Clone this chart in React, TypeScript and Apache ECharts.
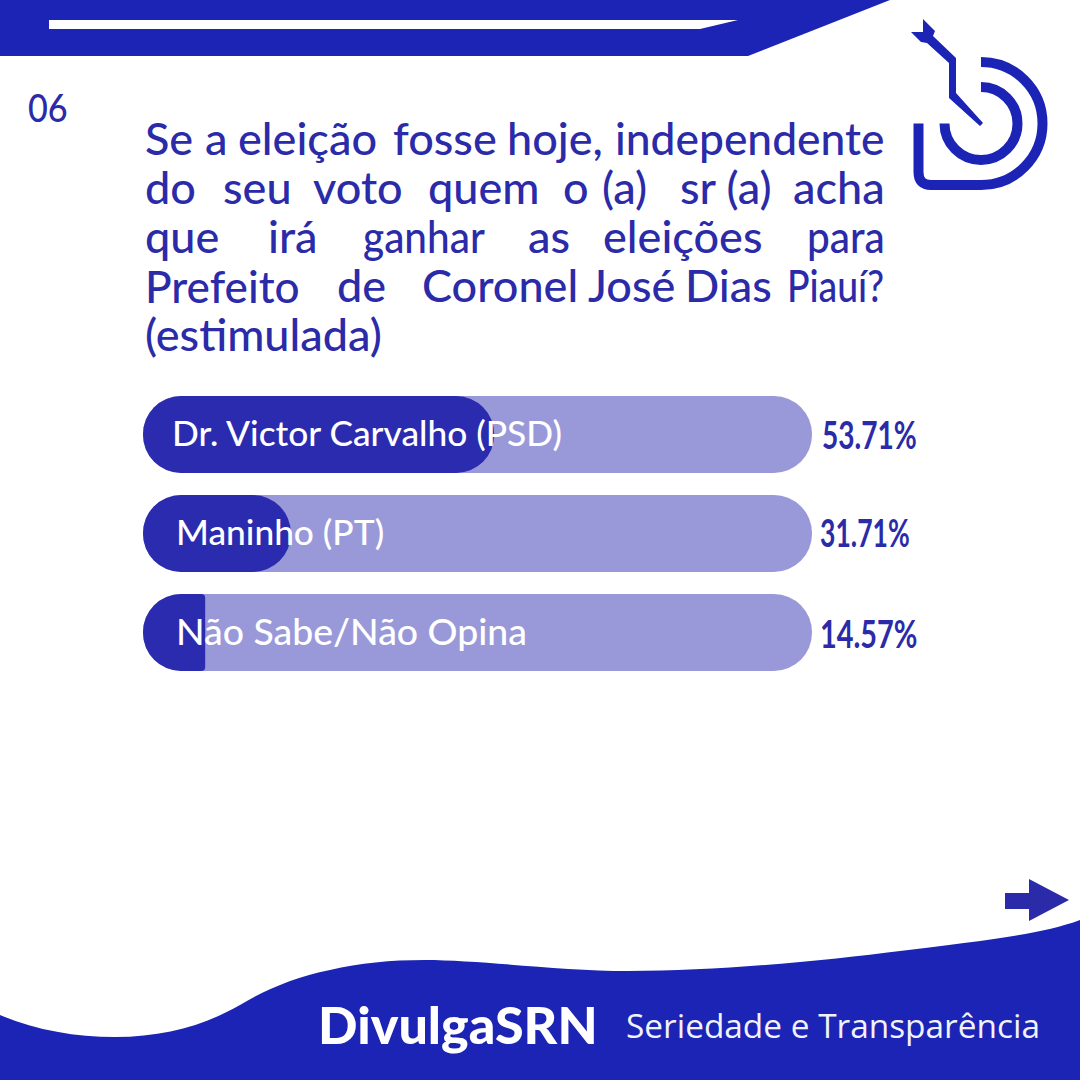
import React, { useEffect, useRef } from "react";
import * as echarts from "echarts";

const categories = ["Dr. Victor Carvalho (PSD)", "Maninho (PT)", "Não Sabe/Não Opina"];
const printedValues = [53.71, 31.71, 14.57];
// Drawn length of each dark bar as a share of its track
const fillLengths = [52.5, 22.1, 9.3];
const trackValues = [100, 100, 100];

const nameOffsets = [29, 33, 33];
const nameSizes = [35.3, 35.3, 37.4];
const valueX = [822, 820, 820];
const valueY = [434, 533, 633];
const valueScale = [0.74, 0.7, 0.76];
const fillRadii = [
  [38, 38, 38, 38],
  [38, 38, 38, 38],
  [38, 4, 4, 38],
];

const titleWords: [string, number, number, number][] = [
  ["Se", 145, 138, 1],
  ["a", 205, 138, 1],
  ["eleição", 238, 138, 1],
  ["fosse", 393, 138, 1],
  ["hoje,", 507, 138, 1],
  ["independente", 615, 138, 0.985],
  ["do", 145, 187, 1],
  ["seu", 223, 187, 1],
  ["voto", 313, 187, 1],
  ["quem", 428, 187, 1],
  ["o", 563, 187, 1],
  ["(a)", 602, 187, 1],
  ["sr (a)", 680, 187, 1],
  ["acha", 793, 187, 1],
  ["que", 145, 236, 1],
  ["irá", 268, 236, 1],
  ["ganhar", 363, 236, 0.9],
  ["as", 528, 236, 1],
  ["eleições", 603, 236, 1],
  ["para", 807, 236, 0.9],
  ["Prefeito", 145, 285, 0.98],
  ["de", 337, 285, 1],
  ["Coronel", 422, 285, 1],
  ["José", 588, 285, 1],
  ["Dias", 685, 285, 1],
  ["Piauí?", 787, 285, 0.83],
  ["(estimulada)", 145, 334, 1],
];

const BLUE = "#1b24b4";
const INK = "#2b2ba9";
const FILL = "#2b2bb0";
const TRACK = "#9999d9";
const FONT = "Lato";

echarts.graphic.registerShape(
  "footerWave",
  echarts.graphic.extendPath(
    "M0,1015 C35,1030 75,1037 115,1037 C165,1037 205,1025 240,1005 C265,990 295,977 330,970 C360,963 390,960 425,960 C480,960 560,971 628,971 C720,971 830,960 900,951 C980,941 1040,935 1080,920 L1080,1080 L0,1080 Z",
    {}
  )
);
echarts.graphic.registerShape(
  "logoOuter",
  echarts.graphic.extendPath("M981,62 A61,61 0 0 1 981,185 L931,185 Q918.5,185 918.5,172 L918.5,123.5", {})
);
echarts.graphic.registerShape(
  "logoInner",
  echarts.graphic.extendPath("M981,87 A36.5,36.5 0 1 1 944.5,123.5", {})
);

function buildGraphic() {
  const words = titleWords.map(([text, x, y, scale]) => ({
    type: "text",
    x,
    y,
    scaleX: scale,
    z: 10,
    style: { text, x: 0, y: 0, fill: INK, fontFamily: FONT, fontSize: 45, fontWeight: 500, verticalAlign: "middle" },
  }));
  const values = printedValues.map((v, i) => ({
    type: "text",
    x: valueX[i],
    y: valueY[i],
    scaleX: valueScale[i],
    z: 10,
    style: {
      text: v.toFixed(2) + "%",
      x: 0,
      y: 0,
      fill: INK,
      fontFamily: FONT,
      fontSize: 38,
      fontWeight: 700,
      verticalAlign: "middle",
    },
  }));
  return [
    { type: "polygon", shape: { points: [[0, 0], [890, 0], [748, 56], [0, 56]] }, style: { fill: BLUE } },
    { type: "polygon", shape: { points: [[49, 20], [738, 20], [700, 29], [49, 29]] }, style: { fill: "#ffffff" } },
    { type: "footerWave", x: 0, y: 0, style: { fill: BLUE } },
    { type: "logoOuter", x: 0, y: 0, style: { fill: "none", stroke: BLUE, lineWidth: 10 } },
    { type: "logoInner", x: 0, y: 0, style: { fill: "none", stroke: BLUE, lineWidth: 10 } },
    {
      type: "polygon",
      shape: {
        points: [
          [911, 32], [923, 32], [923, 19], [935, 31], [933, 36], [956, 58], [956, 93],
          [983, 123], [980, 126], [949, 98], [949, 63], [927, 43], [921, 42],
        ],
      },
      style: { fill: BLUE },
    },
    {
      type: "polygon",
      shape: { points: [[1005, 893], [1029, 893], [1029, 879], [1069, 900], [1029, 921], [1029, 909], [1005, 909]] },
      style: { fill: INK },
    },
    {
      type: "text",
      x: 28,
      y: 107,
      scaleX: 0.9,
      style: { text: "06", x: 0, y: 0, fill: INK, fontFamily: FONT, fontSize: 38, fontWeight: 500, verticalAlign: "middle" },
    },
    ...words,
    ...values,
    {
      type: "text",
      style: { text: "DivulgaSRN", x: 318, y: 1024, fill: "#ffffff", fontFamily: FONT, fontSize: 52, fontWeight: 900, verticalAlign: "middle" },
    },
    {
      type: "text",
      style: { text: "Seriedade e Transparência", x: 626, y: 1025, fill: "#f2f2fb", fontFamily: "Open Sans", fontSize: 33.4, fontWeight: 400, verticalAlign: "middle" },
    },
  ];
}

export default function App() {
  const ref = useRef<HTMLDivElement>(null);
  useEffect(() => {
    document.body.style.margin = "0";
    document.body.style.background = "#ffffff";
    const chart = echarts.init(ref.current!, undefined, { renderer: "svg" });
    chart.setOption({
      animation: false,
      backgroundColor: "#ffffff",
      grid: { left: 143, top: 385, width: 669, height: 297, containLabel: false },
      xAxis: { type: "value", min: 0, max: 100, show: false },
      yAxis: { type: "category", data: categories, inverse: true, show: false },
      graphic: { elements: buildGraphic() },
      series: [
        {
          type: "bar",
          barWidth: 77,
          barGap: "-100%",
          data: trackValues,
          itemStyle: { color: TRACK, borderRadius: 38 },
          silent: true,
        },
        {
          type: "bar",
          barWidth: 77,
          barGap: "-100%",
          data: fillLengths.map((v, i) => ({
            value: v,
            itemStyle: { color: FILL, borderRadius: fillRadii[i] },
            label: {
              show: true,
              position: [nameOffsets[i], "50%"],
              offset: [0, -2],
              verticalAlign: "middle",
              align: "left",
              formatter: categories[i],
              color: "#ffffff",
              fontFamily: FONT,
              fontSize: nameSizes[i],
              fontWeight: 500,
            },
          })),
          silent: true,
        },
      ],
    });
    return () => chart.dispose();
  }, []);
  return <div ref={ref} style={{ position: "absolute", left: 0, top: 0, width: 1080, height: 1080 }} />;
}
